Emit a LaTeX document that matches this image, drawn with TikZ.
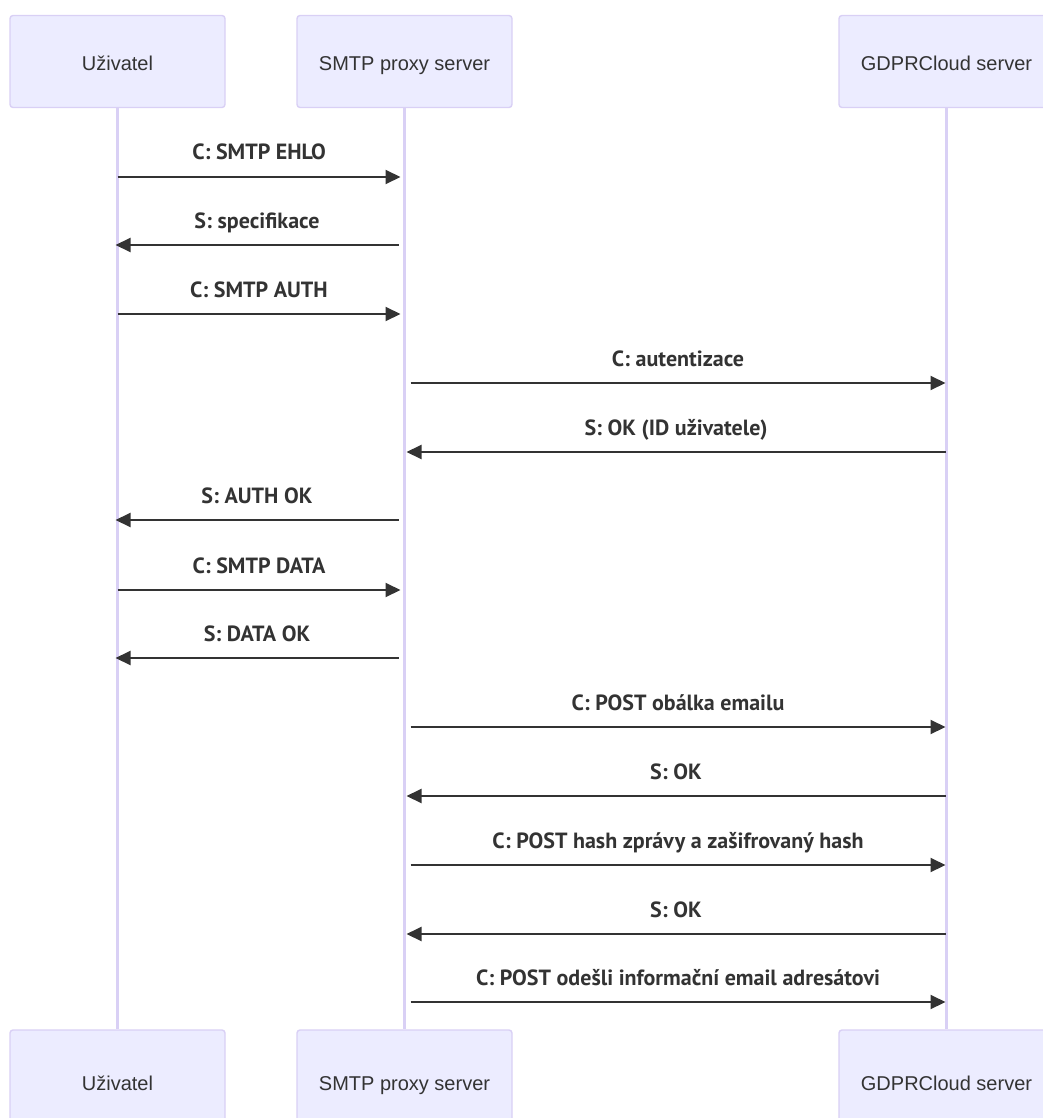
\documentclass[tikz,border=0pt]{standalone}
\usepackage{fontspec}
\setmainfont{Liberation Sans}
\newfontfamily\msgfont{PT Sans}
\usetikzlibrary{arrows.meta}
\definecolor{actorfill}{HTML}{ECECFF}
\definecolor{actorline}{HTML}{D9D0F5}
\definecolor{ink}{HTML}{333333}
\tikzset{
  actor/.style={draw=actorline, fill=actorfill, line width=1.4pt, rounded corners=3pt,
    minimum width=215pt, minimum height=92pt, inner sep=0pt,
    text height=19pt, text depth=0pt,
    font=\fontsize{20}{24}\selectfont, text=ink},
  actorlow/.style={actor, minimum height=102pt},
  lifeline/.style={draw=actorline, line width=2.4pt},
  msg/.style={draw=ink, line width=2pt, -{Triangle[length=15pt,width=14pt]}},
  msglabel/.style={pos=0.5, anchor=base, yshift=17pt, inner sep=0pt,
    font=\msgfont\bfseries\fontsize{22}{26}\selectfont, text=ink}
}
\begin{document}
\begin{tikzpicture}[x=1pt,y=-1pt]
\useasboundingbox (0,0) rectangle (1043,1118);
% participants, top row
\node[actor] (uT) at (117.5,61.5) {Uživatel};
\node[actor] (sT) at (404.5,61.5) {SMTP proxy server};
\node[actor] (gT) at (946.5,61.5) {GDPRCloud server};
% participants, bottom row
\node[actorlow] (uB) at (117.5,1081) {Uživatel};
\node[actorlow] (sB) at (404.5,1081) {SMTP proxy server};
\node[actorlow] (gB) at (946.5,1081) {GDPRCloud server};
% lifelines
\draw[lifeline] (uT.south) -- (uB.north);
\draw[lifeline] (sT.south) -- (sB.north);
\draw[lifeline] (gT.south) -- (gB.north);
% messages
\draw[msg] (uT.south |- 0,177) -- ([xshift=-4pt]sT.south |- 0,177) node[msglabel] {C: SMTP EHLO};
\draw[msg] ([xshift=-6pt]sT.south |- 0,245) -- ([xshift=-2pt]uT.south |- 0,245) node[msglabel] {S: specifikace};
\draw[msg] (uT.south |- 0,314) -- ([xshift=-4pt]sT.south |- 0,314) node[msglabel] {C: SMTP AUTH};
\draw[msg] ([xshift=6pt]sT.south |- 0,383) -- ([xshift=-1pt]gT.south |- 0,383) node[msglabel] {C: autentizace};
\draw[msg] ([xshift=-1pt]gT.south |- 0,452) -- ([xshift=2pt]sT.south |- 0,452) node[msglabel] {S: OK (ID uživatele)};
\draw[msg] ([xshift=-6pt]sT.south |- 0,520) -- ([xshift=-2pt]uT.south |- 0,520) node[msglabel] {S: AUTH OK};
\draw[msg] (uT.south |- 0,590) -- ([xshift=-4pt]sT.south |- 0,590) node[msglabel] {C: SMTP DATA};
\draw[msg] ([xshift=-6pt]sT.south |- 0,658) -- ([xshift=-2pt]uT.south |- 0,658) node[msglabel] {S: DATA OK};
\draw[msg] ([xshift=6pt]sT.south |- 0,727) -- ([xshift=-1pt]gT.south |- 0,727) node[msglabel] {C: POST obálka emailu};
\draw[msg] ([xshift=-1pt]gT.south |- 0,796) -- ([xshift=2pt]sT.south |- 0,796) node[msglabel] {S: OK};
\draw[msg] ([xshift=6pt]sT.south |- 0,865) -- ([xshift=-1pt]gT.south |- 0,865) node[msglabel] {C: POST hash zprávy a zašifrovaný hash};
\draw[msg] ([xshift=-1pt]gT.south |- 0,934) -- ([xshift=2pt]sT.south |- 0,934) node[msglabel] {S: OK};
\draw[msg] ([xshift=6pt]sT.south |- 0,1002) -- ([xshift=-1pt]gT.south |- 0,1002) node[msglabel] {C: POST odešli informační email adresátovi};
\end{tikzpicture}
\end{document}
